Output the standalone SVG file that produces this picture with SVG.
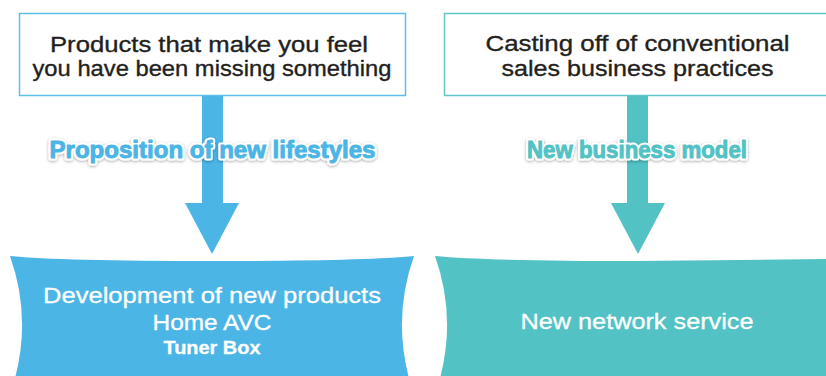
<svg xmlns="http://www.w3.org/2000/svg" width="826" height="376" viewBox="0 0 826 376">
<defs>
<style>
.txt{font-family:"Liberation Sans",Arial,sans-serif;font-size:22px;fill:#231f20;stroke:#231f20;stroke-width:0.35;text-anchor:middle}
.wtxt{font-family:"Liberation Sans",Arial,sans-serif;font-size:22px;fill:#ffffff;stroke:#ffffff;stroke-width:0.3;text-anchor:middle}
.lbl{font-family:"Liberation Sans",Arial,sans-serif;font-weight:bold;font-size:23px;text-anchor:middle;stroke-linejoin:round}
.halo{fill:#ffffff;stroke:#ffffff;stroke-width:5}
</style>
<filter id="sh" x="-10%" y="-40%" width="120%" height="180%">
<feDropShadow dx="0" dy="1" stdDeviation="1.5" flood-color="#000" flood-opacity="0.35"/>
</filter>
</defs>
<rect width="826" height="376" fill="#ffffff"/>
<g id="connectors">
<g id="arrow-left" fill="#4bb5e6">
<rect x="202" y="96" width="21" height="108"/>
<polygon points="185,203 239,203 212,254"/>
</g>
<g id="arrow-right" fill="#52c2c5">
<rect x="627" y="96" width="21" height="108"/>
<polygon points="611,203 665,203 638,254"/>
</g>
</g>
<g id="node-top-left">
<rect x="19.5" y="13.5" width="386" height="82" fill="#ffffff" stroke="#5bbfea" stroke-width="1.5"/>
<text class="txt" x="209" y="52" textLength="318" lengthAdjust="spacingAndGlyphs">Products that make you feel</text>
<text class="txt" x="212" y="76" textLength="359" lengthAdjust="spacingAndGlyphs">you have been missing something</text>
</g>
<g id="node-top-right">
<rect x="444.5" y="13.5" width="385" height="82" fill="#ffffff" stroke="#5fc6c9" stroke-width="1.5"/>
<text class="txt" x="637.5" y="51" textLength="304" lengthAdjust="spacingAndGlyphs">Casting off of conventional</text>
<text class="txt" x="637.5" y="76" textLength="272" lengthAdjust="spacingAndGlyphs">sales business practices</text>
</g>
<g id="label-left">
<text class="lbl halo" filter="url(#sh)" x="212.5" y="158" textLength="326" lengthAdjust="spacingAndGlyphs">Proposition of new lifestyles</text>
<text class="lbl" x="212.5" y="158" fill="#4bb5e6" stroke="#4bb5e6" stroke-width="0.9" textLength="326" lengthAdjust="spacingAndGlyphs">Proposition of new lifestyles</text>
</g>
<g id="label-right">
<text class="lbl halo" filter="url(#sh)" x="637" y="158" textLength="220" lengthAdjust="spacingAndGlyphs">New business model</text>
<text class="lbl" x="637" y="158" fill="#52c2c5" stroke="#52c2c5" stroke-width="0.9" textLength="220" lengthAdjust="spacingAndGlyphs">New business model</text>
</g>
<g id="node-bottom-left">
<path d="M10,256 Q60,261 212,261 Q364,261 414,256 Q392,318 410,382 L14,382 Q32,318 10,256 Z" fill="#4bb5e6"/>
<text class="wtxt" x="212" y="303" textLength="338" lengthAdjust="spacingAndGlyphs">Development of new products</text>
<text class="wtxt" x="212" y="330" textLength="119" lengthAdjust="spacingAndGlyphs">Home AVC</text>
<text class="wtxt" x="212" y="354" style="font-weight:bold;font-size:19px" textLength="97" lengthAdjust="spacingAndGlyphs">Tuner Box</text>
</g>
<g id="node-bottom-right">
<path d="M435,256 Q485,261 637,261 L830,259 L830,382 L439,382 Q457,318 435,256 Z" fill="#52c2c5"/>
<text class="wtxt" x="637" y="329" textLength="233" lengthAdjust="spacingAndGlyphs">New network service</text>
</g>
</svg>
